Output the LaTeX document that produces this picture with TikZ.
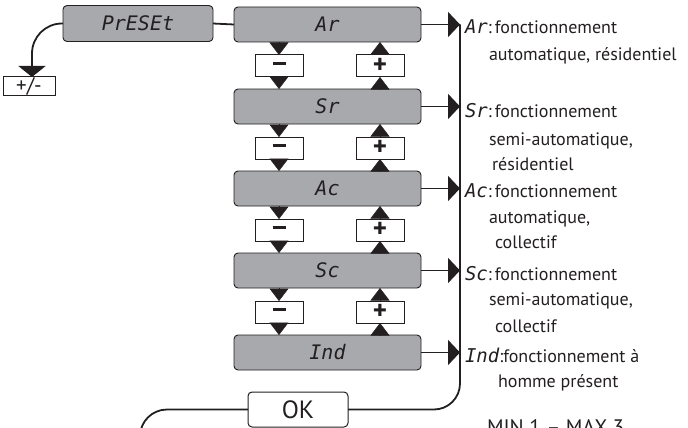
\documentclass[tikz,border=0pt]{standalone}
\usepackage{fontspec}
\setmainfont{PT Sans}
\newfontfamily\lcdfont{DejaVu Sans Mono}
\usetikzlibrary{arrows.meta}
\definecolor{panel}{RGB}{167,169,172}
\definecolor{ink}{RGB}{35,31,32}

\begin{document}
\begin{tikzpicture}[x=1pt,y=-1pt,
  every node/.style={inner sep=0pt, outer sep=0pt, text=ink},
  display/.style={draw=ink, fill=panel, rounded corners=4pt, line width=0.9pt,
    minimum width=187pt, minimum height=35pt,
    font=\lcdfont\itshape\fontsize{20}{20}\selectfont},
  key/.style={draw=ink, fill=white, line width=1pt,
    minimum width=48pt, minimum height=22pt,
    font=\fontsize{27}{27}\selectfont\bfseries},
  conn/.style={draw=ink, line width=1.8pt},
  stepdir/.style={draw=ink, line width=0.5pt, -{Triangle[width=19pt,length=12.5pt]}},
  feed/.style={conn, -{Triangle[width=25pt,length=12pt]}},
  desc/.style={anchor=base west, font=\fontsize{18}{18}\selectfont},
]
\useasboundingbox (0,0) rectangle (688,428);
\clip (0,0) rectangle (688,428);

% display states of the menu
\node[display, minimum width=150pt, minimum height=36pt] (preset) at (138,23.5) {PrESEt};
\node[display] (ar)  at (327.5,24.5)  {Ar};
\node[display] (sr)  at (327.5,106.5) {Sr};
\node[display] (ac)  at (327.5,188.5) {Ac};
\node[display] (sc)  at (327.5,270.5) {Sc};
\node[display] (ind) at (327.5,352.5) {Ind};

% up / down keys between successive states
\foreach \a/\b/\i in {ar/sr/1, sr/ac/2, ac/sc/3, sc/ind/4} {
  \pgfmathsetmacro{\ky}{66+82*(\i-1)}
  \node[key] (m\i) at (279,\ky) {\rule[0.22em]{13pt}{3pt}};
  \node[key] (p\i) at (380,\ky) {\raisebox{-1pt}{+}};
  \draw[stepdir] (\a.south -| m\i.north) -- (m\i.north);
  \draw[stepdir] (m\i.south) -- (\b.north -| m\i.south);
  \draw[stepdir] (\b.north -| p\i.south) -- (p\i.south);
  \draw[stepdir] (p\i.north) -- (\a.south -| p\i.north);
}

% preset entry and sign key
\draw[conn] (preset.east) -- (ar.west);
\node[draw=ink, fill=white, line width=1pt, minimum width=52pt, minimum height=18pt,
      font=\fontsize{21}{21}\selectfont] (pm) at (29,86) {+/-};
\draw[conn, rounded corners=30pt, -{Triangle[width=27pt,length=11pt]}]
  (preset.west) -| ([xshift=3pt]pm.north);

% confirmation key and return bus
\node[draw=ink, fill=white, rounded corners=4pt, line width=1pt,
      minimum width=100pt, minimum height=35pt,
      font=\fontsize{25}{25}\selectfont] (ok) at (298,409.5) {OK};
\coordinate (buscol) at (460,0);
\coordinate (exit) at (140,460);
\foreach \s in {ar,sr,ac,sc,ind}
  \draw[feed] (\s.east) -- (\s.east -| buscol);
\draw[conn, rounded corners=26pt] (ar.east -| buscol) |- (ok.east);
\draw[conn, rounded corners=27pt] (ok.west) -| (exit);

% mode descriptions
\newcommand\modecode[1]{{\lcdfont\itshape\fontsize{19}{19}\selectfont #1}}
\node[desc] (arA) at (465,34)  {\modecode{Ar}:\,fonctionnement};
\node[desc] (arB) at (489,61)  {automatique, résidentiel};
\node[desc] (srA) at (465,117) {\modecode{Sr}:\,fonctionnement};
\node[desc] (srB) at (489,145) {semi-automatique,};
\node[desc] (srC) at (492,170) {résidentiel};
\node[desc] (acA) at (465,197) {\modecode{Ac}:\,fonctionnement};
\node[desc] (acB) at (489,223) {automatique,};
\node[desc] (acC) at (495,248) {collectif};
\node[desc] (scA) at (465,280) {\modecode{Sc}:\,fonctionnement};
\node[desc] (scB) at (489,305) {semi-automatique,};
\node[desc] (scC) at (495,332) {collectif};
\node[desc] (indA) at (465,362) {\modecode{Ind}:fonctionnement à};
\node[desc] (indB) at (498,387) {homme présent};

\node[desc, font=\fontsize{21}{21}\selectfont] (range) at (487,434.7) {MIN 1 – MAX 3};
\end{tikzpicture}
\end{document}
